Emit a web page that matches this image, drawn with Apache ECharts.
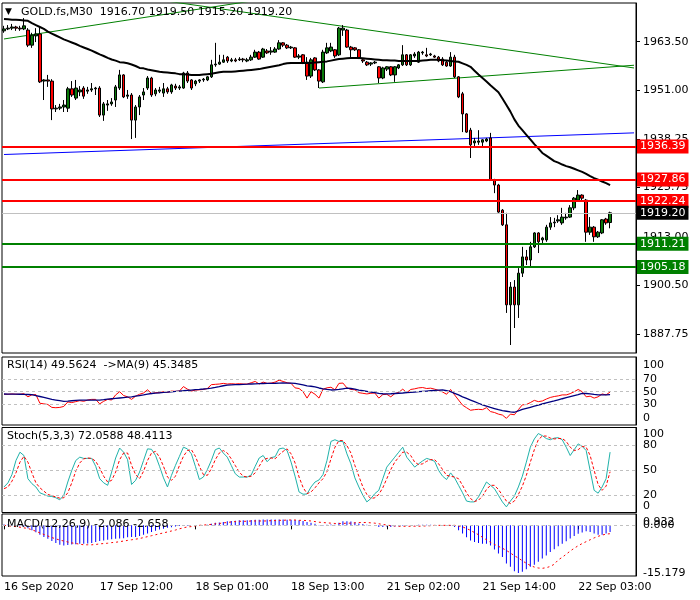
<!DOCTYPE html>
<html><head><meta charset="utf-8">
<script src="https://cdn.jsdelivr.net/npm/echarts@6/dist/echarts.min.js"></script>
<style>html,body{margin:0;padding:0;background:#fff}#c{width:700px;height:600px}</style>
</head><body><div id="c"></div>
<script>
// ---------- DATA ----------
const priceOpen = [1966.3,1966.8,1967.0,1967.3,1967.0,1966.8,1966.5,1962.6,1965.0,1965.5,
1953.3,1953.6,1953.3,1946.1,1946.3,1946.6,1946.3,1951.3,1948.9,1950.5,
1951.5,1950.7,1951.0,1951.3,1951.5,1944.5,1947.1,1947.4,1948.4,1951.5,
1954.9,1949.4,1949.7,1943.2,1946.6,1949.7,1951.5,1954.1,1950.0,1950.7,
1950.2,1951.3,1950.5,1952.0,1951.5,1951.5,1955.4,1953.6,1952.6,1953.3,
1953.6,1953.6,1954.4,1957.5,1957.7,1958.2,1959.5,1958.5,1958.8,1958.8,
1959.0,1958.5,1958.8,1959.5,1960.8,1959.5,1961.1,1960.8,1960.8,1961.6,
1963.2,1962.6,1961.9,1961.9,1959.5,1960.1,1958.2,1954.6,1959.3,1956.2,
1953.1,1960.6,1961.1,1961.4,1960.1,1966.5,1966.5,1962.1,1961.9,1961.4,
1958.8,1958.2,1957.7,1958.0,1957.0,1954.1,1956.4,1957.0,1954.9,1956.7,
1957.5,1960.1,1957.5,1959.8,1958.2,1960.6,1960.1,1960.1,1959.8,1959.5,
1959.0,1958.2,1957.2,1959.5,1954.4,1950.0,1944.8,1940.6,1937.3,1937.5,
1937.5,1937.8,1938.6,1927.7,1926.4,1919.9,1916.1,1895.4,1900.0,1895.4,
1903.6,1907.8,1907.0,1910.4,1914.0,1912.2,1912.2,1915.5,1916.6,1917.1,
1916.6,1917.9,1918.1,1920.5,1922.5,1923.8,1922.5,1914.2,1915.5,1913.0,
1914.0,1917.6,1916.7];
const priceClose = [1966.8,1967.0,1967.3,1967.0,1966.8,1967.6,1962.6,1965.2,1965.5,1953.1,
1953.6,1953.3,1946.1,1946.3,1946.6,1947.1,1951.3,1949.7,1951.5,1951.0,
1949.4,1951.0,1951.3,1951.5,1944.5,1947.4,1947.4,1947.9,1951.8,1954.9,
1949.2,1949.7,1943.2,1946.6,1949.2,1950.5,1954.1,1949.7,1951.0,1951.0,
1951.3,1950.5,1952.3,1951.5,1951.8,1955.4,1953.3,1951.5,1953.3,1953.6,
1953.8,1954.4,1957.5,1957.7,1958.2,1958.8,1958.5,1958.8,1958.5,1959.0,
1958.8,1958.8,1959.5,1960.8,1959.0,1961.6,1960.6,1961.1,1961.6,1963.2,
1962.6,1961.9,1962.1,1959.5,1959.8,1958.0,1954.6,1958.8,1956.2,1953.3,
1960.8,1961.9,1962.1,1959.8,1967.0,1967.0,1962.1,1961.4,1961.4,1959.3,
1958.5,1957.5,1958.0,1958.2,1954.1,1956.7,1957.0,1954.9,1957.0,1957.5,
1960.1,1957.5,1960.1,1960.3,1960.8,1960.8,1959.8,1960.3,1959.5,1958.5,
1957.5,1957.2,1959.5,1954.4,1949.2,1944.8,1940.1,1936.8,1937.8,1937.8,
1938.1,1938.3,1927.7,1926.4,1919.4,1916.1,1895.4,1900.0,1895.4,1903.6,
1907.8,1907.0,1910.4,1914.0,1911.7,1912.7,1915.5,1916.6,1916.8,1917.4,
1918.1,1918.1,1920.5,1923.0,1923.8,1923.0,1914.2,1915.5,1913.0,1914.2,
1917.4,1916.6,1919.2];
const priceLow = [1965.8,1966.5,1966.5,1966.3,1966.3,1966.5,1962.1,1961.9,1963.4,1952.8,
1948.4,1951.8,1943.2,1945.3,1945.8,1945.3,1945.3,1949.2,1948.4,1949.4,
1948.7,1950.0,1950.5,1949.7,1944.0,1943.0,1945.6,1946.9,1946.6,1951.0,
1948.9,1948.7,1938.3,1938.6,1944.5,1948.4,1951.0,1949.2,1949.4,1950.2,
1949.2,1950.0,1950.0,1951.0,1951.0,1951.3,1952.8,1951.0,1952.0,1952.8,
1953.1,1953.3,1954.1,1957.0,1957.5,1958.0,1958.0,1958.2,1958.2,1958.5,
1958.2,1958.2,1958.5,1959.3,1958.8,1959.3,1960.3,1960.1,1960.6,1961.4,
1962.1,1961.6,1961.6,1959.3,1959.0,1957.7,1953.6,1954.1,1955.9,1951.5,
1952.8,1960.3,1960.8,1959.3,1959.8,1965.0,1961.9,1959.5,1961.1,1959.0,
1958.0,1957.2,1957.2,1957.7,1952.8,1953.8,1955.9,1954.6,1953.1,1956.4,
1957.2,1957.2,1957.2,1959.3,1958.0,1960.1,1959.5,1959.8,1959.3,1958.2,
1957.2,1957.0,1957.0,1954.1,1948.9,1940.1,1939.9,1933.4,1936.2,1936.8,
1936.0,1937.5,1927.5,1924.3,1919.2,1915.8,1893.3,1885.0,1889.4,1892.0,
1902.6,1905.7,1905.2,1910.1,1908.8,1911.4,1911.7,1914.8,1915.5,1916.6,
1916.1,1917.4,1917.9,1919.9,1922.3,1922.5,1911.7,1913.5,1911.7,1912.7,
1913.7,1916.1,1915.2];
const priceHigh = [1967.6,1967.8,1968.1,1967.6,1967.6,1969.6,1967.0,1965.8,1967.0,1967.3,
1953.8,1954.9,1953.8,1947.1,1947.4,1948.4,1951.8,1953.3,1953.6,1952.0,
1952.0,1951.8,1952.8,1951.8,1952.0,1947.9,1948.4,1948.9,1952.3,1956.2,
1955.1,1951.0,1950.2,1947.1,1949.7,1951.5,1954.6,1954.4,1951.5,1951.8,
1952.8,1951.8,1952.6,1952.6,1952.3,1955.7,1955.9,1953.8,1953.6,1953.8,
1954.1,1954.6,1958.8,1963.2,1960.1,1960.1,1959.8,1959.3,1959.3,1959.5,
1959.3,1959.3,1960.1,1961.4,1961.1,1961.9,1961.6,1962.1,1962.1,1963.9,
1963.4,1962.9,1962.4,1962.1,1960.3,1960.3,1959.5,1959.3,1959.5,1956.4,
1961.4,1963.2,1963.2,1961.6,1967.3,1967.8,1966.8,1962.4,1962.1,1961.6,
1959.0,1958.5,1958.2,1958.5,1957.2,1957.0,1957.2,1957.2,1957.2,1957.7,
1962.6,1960.3,1960.3,1960.8,1961.1,1961.1,1961.9,1960.6,1960.1,1959.8,
1959.5,1958.5,1960.8,1960.1,1954.6,1950.5,1945.0,1941.2,1938.6,1940.6,
1938.3,1938.6,1939.9,1928.0,1926.7,1920.2,1919.2,1901.3,1901.8,1904.9,
1910.4,1909.6,1911.7,1914.2,1914.2,1913.0,1916.1,1918.1,1917.9,1918.6,
1920.5,1919.2,1921.2,1923.3,1925.1,1924.0,1922.8,1918.1,1915.8,1914.5,
1917.6,1917.9,1919.5];
const maValues = [1969.4,1969.3,1969.2,1969.2,1969.1,1969.0,1968.9,1968.3,1967.8,1967.3,
1966.8,1966.1,1965.6,1965.1,1964.6,1964.1,1963.7,1963.3,1962.9,1962.4,
1962.0,1961.6,1961.2,1960.7,1960.2,1959.8,1959.3,1958.9,1958.6,1958.2,
1958.1,1957.9,1957.6,1957.2,1956.7,1956.6,1956.3,1956.1,1955.9,1955.7,
1955.6,1955.5,1955.4,1955.3,1955.1,1955.1,1955.0,1954.9,1954.9,1954.9,
1955.0,1955.1,1955.2,1955.4,1955.6,1955.7,1955.7,1955.7,1955.8,1955.9,
1956.0,1956.1,1956.2,1956.3,1956.4,1956.6,1956.8,1957.0,1957.2,1957.4,
1957.7,1957.9,1958.0,1958.0,1958.0,1958.0,1958.0,1958.0,1958.1,1958.2,
1958.3,1958.4,1958.6,1958.8,1959.0,1959.1,1959.2,1959.3,1959.3,1959.3,
1959.2,1959.1,1959.0,1958.9,1958.8,1958.7,1958.7,1958.6,1958.6,1958.5,
1958.5,1958.5,1958.5,1958.5,1958.5,1958.6,1958.7,1958.8,1958.8,1958.8,
1958.7,1958.6,1958.5,1958.4,1958.3,1957.9,1957.5,1957.0,1956.0,1955.0,
1954.1,1953.2,1952.2,1951.3,1950.4,1948.8,1947.1,1945.4,1943.4,1941.8,
1940.6,1939.4,1938.2,1937.0,1935.9,1934.7,1934.0,1933.3,1932.6,1932.2,
1931.7,1931.3,1931.0,1930.6,1930.2,1929.8,1929.3,1928.7,1928.2,1927.8,
1927.3,1926.9,1926.4];
const rsiValues = [46,46,46.5,46,46,47,42,45,45.5,32,
31,30,25.5,25,25.5,27,34,33,34.5,36,
35,37,38,38,31,35,38,37,45,50,
44,42,38,43,46,48,53,47,48.5,48.5,
50,49,51,50.5,51,58,54,51,52.5,53,
53.5,55,61,61.5,62,63,62,62.5,62,62.5,
62,62,64,66,62,65,63,63.5,65,68,
66,64,63,56,55,50,40,50,46,40,
54,56,57,53,63,63.5,56,53.5,53,48.5,
47.5,46.5,47.5,48,40,45.5,46,42,47,49,
54,48.5,53.5,54.5,56,56.5,55,55.5,54,52,
49.5,46,53.5,45,37,29,25,21,22,22.5,
22,25,19,17.5,15,13.5,8.4,15,14,22,
29.5,30,33,36.5,34.5,35.5,38.5,41,42.5,43.5,
45,45,47,50,53.5,50,42,43,40,42,
46.5,45,49.56];
const rsiMaValues = [46.4,46.3,46.2,46.1,46,45.8,45.6,45.3,44,42.5,
41,39.5,38,37,36,35,35.3,35.9,36.5,37,
37,37,37,37,37,37.6,38.3,39,39.6,40.2,
40.8,41.4,42,43,44,45,46.2,47.2,47.8,48.3,
48.8,49.4,49.9,50.4,51,51.5,52.1,52.6,53.1,53.6,
54.2,54.9,55.7,56.8,58,59.3,60.2,60.6,61,61.2,
61.5,61.7,62,62.3,62.6,62.8,63,63,63.2,63.5,
63.6,63.5,63.3,63,62,60.5,59,58.5,57.5,55.8,
54.5,53.5,52.7,52.9,53.5,54.5,55.5,55,54,52.5,
51.5,50.5,49.5,48.5,47.5,46.8,46.5,46.8,47.2,47.6,
48,48.5,49,49.5,50,50.5,51,51.5,52,52.5,
52.7,51.5,50,47.5,45,42,39.5,37,34.5,32,
29.5,27.5,25.5,23.7,21.9,20.5,19.5,18.5,17.9,20,
22.3,24,25.7,27.4,29.1,30.8,32.4,34,35.6,37.3,
39,40.6,42.2,43.8,45.3,47.3,47.2,46.5,45.8,45.2,
45,45.1,45.35];
const stochMain = [30,35,45,62,72,68,40,34,30,23,
21,19,18.5,17,14.5,20,36,50,62,66,
64.5,64.5,64.5,55,40,35,32,48,65,77,
72,63,33,38,48,62,76,75.5,68,55,
41,30,44,56,67,78,76,70,55,39,
42,51,62,75,77,71,66,56,46,42,
42,42,44.5,55,65,68,60.5,65.5,66.5,76,
77,74,60,43,24,21.3,21.5,30,36,38.5,
45,62,85,87,85,85,70,58,41,30,
20,12,16,22,26,40,54,60,66,72,
78,66,60,54,58,61.5,64.5,63,61,50,
43,39,47,41,32,23,13,12,12,18,
27,36,32,28,20,12,6,13,19,30,
43,60,78,88,94.5,92,88.5,87,89,89.5,
87,78,68,75,82,79,74,50,26,22.5,
30,40,72.06];
const stochSignal = [28,30,37,47,60,67,60,47,35,29,
25,21,19.5,18,16.5,17,23,35,49,59,
64,65,64.5,61,53,43,36,38,48,63,
71,71,56,45,40,49,62,71,73,66,
55,42,38,43,56,67,74,75,67,55,
45,44,52,63,71,74,71,64,56,48,
43,42,43,47,55,63,64.5,65,64,69,
73,76,70,59,42,29.5,22,24,29,35,
40,48.5,64,78,86,86,80,71,56,43,
30,21,16,17,21,29,40,51,60,66,
72,72,68,60,57,58,61,63,63,58,
51,44,43,42,40,32,23,16,12.5,14,
19,27,32,32,27,20,13,10,13,21,
31,44,60,75,87,91.5,91.5,89,88,88.5,
88.5,85,78,74,75,79,78,68,50,33,
26,31,48.41];
const macdHist = [0.3,0.3,0.2,0,-0.3,-0.4,-0.9,-1.6,-2.2,-3.0,
-3.7,-4.3,-5.0,-5.6,-6.2,-6.4,-6.3,-6.1,-6.0,-5.9,
-5.9,-5.8,-5.6,-5.3,-5.0,-4.8,-4.6,-4.4,-4.3,-4.2,
-4.1,-3.8,-3.7,-3.7,-3.4,-3.0,-2.6,-2.1,-1.7,-1.3,
-1.1,-0.8,-0.6,-0.4,-0.2,-0.1,-0.1,0,0,0,
0.05,0.2,0.5,0.8,0.9,1.1,1.3,1.4,1.5,1.6,
1.6,1.6,1.7,1.8,1.8,1.9,1.9,1.9,1.9,1.9,
1.9,1.8,1.8,1.7,1.6,1.4,1.1,0.8,0.5,0.1,
-0.1,0.2,0.3,0.2,0.8,1.3,1.3,1.2,1.0,0.6,
0.4,0.2,0,-0.1,-0.5,-0.5,-0.4,-0.5,-0.4,-0.3,
-0.1,-0.2,0,0.1,0.2,0.2,0.2,0.2,0.1,0,
-0.1,-0.2,-0.1,-0.5,-1.6,-2.6,-3.8,-4.8,-5.3,-5.6,
-5.9,-5.9,-6.4,-7.7,-9.0,-10.1,-12.2,-13.2,-14.6,-15.179,
-14.8,-14.0,-13.2,-12.6,-11.6,-10.6,-9.6,-8.5,-7.6,-6.7,
-5.9,-5.1,-4.2,-3.4,-2.7,-2.3,-1.9,-2.1,-2.6,-3.0,
-3.0,-2.6,-2.086];
const macdSignal = [0,-0.1,-0.3,-0.4,-0.6,-0.8,-1.0,-1.4,-1.9,-2.4,
-2.9,-3.4,-3.9,-4.3,-4.7,-5.0,-5.3,-5.6,-5.8,-6.0,
-6.2,-6.2,-6.2,-6.1,-5.9,-5.8,-5.7,-5.5,-5.4,-5.2,
-5.0,-4.8,-4.6,-4.4,-4.2,-3.9,-3.6,-3.3,-3.0,-2.7,
-2.4,-2.1,-1.8,-1.5,-1.1,-0.8,-0.5,-0.4,-0.2,0,
0.1,0.2,0.3,0.5,0.6,0.8,0.9,1.1,1.2,1.3,
1.3,1.3,1.4,1.4,1.4,1.4,1.4,1.5,1.5,1.6,
1.6,1.7,1.7,1.7,1.6,1.6,1.5,1.4,1.2,1.0,
0.9,0.8,0.7,0.6,0.6,0.6,0.7,0.7,0.8,0.9,
0.9,0.9,0.8,0.7,0.5,0.3,0.1,-0.1,-0.2,-0.3,
-0.3,-0.3,-0.3,-0.3,-0.3,-0.2,-0.2,-0.1,0,0,
0,0,0,0,-0.2,-0.5,-1.0,-1.6,-2.3,-3.0,
-3.8,-4.6,-5.4,-6.1,-6.7,-7.3,-8.0,-8.8,-9.7,-10.4,
-11.3,-12.1,-12.8,-13.3,-13.6,-13.7,-13.5,-13.1,-12.4,-11.0,
-10.2,-9.2,-8.2,-7.3,-6.5,-5.8,-5.2,-4.6,-4.0,-3.5,
-3.1,-2.8,-2.658];
// horizontal levels
const resistanceLevels = [1936.39, 1927.86, 1922.24];
const supportLevels = [1911.21, 1905.18];
const bidPrice = 1919.20;
// trend lines as [bar index, price] end points
const trendDown = [[30, 1975.6], [158, 1956.7]];
const trendUpTop = [[0, 1964.2], [62, 1974.0]];
const trendUpLow = [[79, 1951.5], [158, 1957.4]];
const trendBlue = [[0, 1934.3], [158, 1939.9]];
// axis ticks / labels
const priceTicks = [1963.50, 1951.00, 1938.25, 1925.75, 1913.00, 1900.50, 1887.75];
const rsiTicks = [0, 30, 50, 70, 100];
const rsiLevels = [30, 50, 70];
const stochTicks = [0, 20, 50, 80, 100];
const stochLevels = [20, 50, 80];
const macdTicks = [-15.179, 0.932];
const macdZeroTick = [0];
const timeTickIndex = [0, 24, 48, 72, 96, 120, 144];
const timeTickLabels = ['16 Sep 2020', '17 Sep 12:00', '18 Sep 01:00', '18 Sep 13:00', '21 Sep 02:00', '21 Sep 14:00', '22 Sep 03:00'];
const titleText = 'GOLD.fs,M30  1916.70 1919.50 1915.20 1919.20';
const rsiText = 'RSI(14) 49.5624  ->MA(9) 45.3485';
const stochText = 'Stoch(5,3,3) 72.0588 48.4113';
const macdText = 'MACD(12,26,9) -2.086 -2.658';

// ---------- CHART ----------
const FONT = 'DejaVu Sans';
const FS = 11;
const SLOTS = 159;
const cats = Array.from({length: SLOTS}, (_, i) => String(i));
const candles = priceOpen.map((o, i) => [o, priceClose[i], priceLow[i], priceHigh[i]]);

const grids = [
  {left: 2, top: 3, width: 634, height: 350},
  {left: 2, top: 357, width: 634, height: 68},
  {left: 2, top: 427.5, width: 634, height: 85},
  {left: 2, top: 514, width: 634, height: 62}
].map(g => Object.assign(g, {show: true, borderColor: '#000', borderWidth: 1, backgroundColor: 'transparent'}));

const isTick = idx => timeTickIndex.indexOf(idx) >= 0;
const xAxes = grids.map((g, i) => ({
  type: 'category', gridIndex: i, data: cats, boundaryGap: true,
  axisLine: {show: false},
  axisTick: i === 3 ? {show: true, interval: (idx) => isTick(idx), alignWithLabel: true, length: 4, lineStyle: {color: '#000'}} : {show: false},
  axisLabel: i === 3 ? {
    show: true, interval: (idx) => isTick(idx), align: 'left', margin: 6,
    color: '#000', fontFamily: FONT, fontSize: FS, hideOverlap: false,
    formatter: (v, idx) => { const j = timeTickIndex.indexOf(idx); return j >= 0 ? timeTickLabels[j] : ''; }
  } : {show: false},
  splitLine: {show: false}
}));

const labelBase = {color: '#000', fontFamily: FONT, fontSize: FS, margin: 7, hideOverlap: false,
  showMinLabel: true, showMaxLabel: true};
const yAxes = [
  {type: 'value', gridIndex: 0, position: 'right', min: 1882.93, max: 1973.51, scale: true,
   axisLine: {show: true, lineStyle: {color: '#000'}},
   axisTick: {show: true, customValues: priceTicks, length: 4, lineStyle: {color: '#000'}},
   axisLabel: Object.assign({customValues: priceTicks, formatter: v => v.toFixed(2)}, labelBase),
   splitLine: {show: false}},
  {type: 'value', gridIndex: 1, position: 'right', min: -2, max: 104.2,
   axisLine: {show: true, lineStyle: {color: '#000'}},
   axisTick: {show: false},
   axisLabel: Object.assign({customValues: rsiTicks, formatter: v => String(v),
     verticalAlignMinLabel: 'bottom', verticalAlignMaxLabel: 'top'}, labelBase),
   splitLine: {show: false}},
  {type: 'value', gridIndex: 2, position: 'right', min: -0.8, max: 101.8,
   axisLine: {show: true, lineStyle: {color: '#000'}},
   axisTick: {show: false},
   axisLabel: Object.assign({customValues: stochTicks, formatter: v => String(v),
     verticalAlignMinLabel: 'bottom', verticalAlignMaxLabel: 'top'}, labelBase),
   splitLine: {show: false}},
  {type: 'value', gridIndex: 3, position: 'right', min: -16.15, max: 3.62,
   axisLine: {show: true, lineStyle: {color: '#000'}},
   axisTick: {show: false},
   axisLabel: Object.assign({customValues: macdTicks, formatter: v => v.toFixed(3)}, labelBase),
   splitLine: {show: false}},
  {type: 'value', gridIndex: 3, position: 'right', min: -16.15, max: 3.62,
   axisLine: {show: false},
   axisTick: {show: false},
   axisLabel: Object.assign({customValues: macdZeroTick, formatter: v => v.toFixed(3)}, labelBase),
   splitLine: {show: false}}
];

function levelLine(value, color, width, bg) {
  return {
    yAxis: value,
    lineStyle: {color: color, width: width, type: 'solid'},
    label: {show: true, position: 'end', distance: 1, formatter: value.toFixed(2),
      backgroundColor: bg, color: '#fff', fontFamily: FONT, fontSize: FS,
      padding: [1, 3, 1, 3], lineHeight: 12}
  };
}
const levelData = []
  .concat(resistanceLevels.map(v => levelLine(v, '#ff0000', 2, '#ff0000')))
  .concat([levelLine(bidPrice, '#c0c0c0', 1, '#000000')])
  .concat(supportLevels.map(v => levelLine(v, '#008000', 2, '#008000')));

function dashedLevels(vals) {
  return {silent: true, symbol: ['none', 'none'], label: {show: false},
    lineStyle: {color: '#c0c0c0', type: [3, 3], width: 1},
    data: vals.map(v => ({yAxis: v}))};
}
function trend(data, color) {
  return {type: 'line', xAxisIndex: 0, yAxisIndex: 0, data: data, symbol: 'none', silent: true,
    lineStyle: {color: color, width: 1}, clip: true, z: 1};
}
const txt = {fontFamily: FONT, fontSize: FS, color: '#000', fontWeight: 'normal'};

const option = {
  animation: false,
  backgroundColor: '#fff',
  textStyle: {fontFamily: FONT},
  title: [
    {text: '▼', left: 5, top: 7, padding: 0, textStyle: {fontFamily: 'DejaVu Sans', fontSize: 9, color: '#000', fontWeight: 'normal'}},
    {text: titleText, left: 21, top: 7, padding: 0, textStyle: txt},
    {text: rsiText, left: 7, top: 360, padding: 0, textStyle: txt},
    {text: stochText, left: 7, top: 431, padding: 0, textStyle: txt},
    {text: macdText, left: 7, top: 519, padding: 0, textStyle: txt}
  ],
  grid: grids,
  xAxis: xAxes,
  yAxis: yAxes,
  series: [
    trend(trendBlue, '#0000ff'),
    trend(trendDown, '#008000'),
    trend(trendUpTop, '#008000'),
    trend(trendUpLow, '#008000'),
    {type: 'candlestick', xAxisIndex: 0, yAxisIndex: 0, data: candles, barWidth: 3, silent: true,
     itemStyle: {color: '#0a7a0a', color0: '#ff0000', borderColor: '#000', borderColor0: '#000', borderWidth: 1},
     markLine: {silent: true, symbol: ['none', 'none'], data: levelData}, z: 3},
    {type: 'line', xAxisIndex: 0, yAxisIndex: 0, data: maValues, symbol: 'none', silent: true,
     lineStyle: {color: '#000', width: 2}, z: 4},
    {type: 'line', xAxisIndex: 1, yAxisIndex: 1, data: rsiValues, symbol: 'none', silent: true,
     lineStyle: {color: '#ff0000', width: 1}, markLine: dashedLevels(rsiLevels)},
    {type: 'line', xAxisIndex: 1, yAxisIndex: 1, data: rsiMaValues, symbol: 'none', silent: true,
     lineStyle: {color: '#000080', width: 1.3}},
    {type: 'line', xAxisIndex: 2, yAxisIndex: 2, data: stochMain, symbol: 'none', silent: true,
     lineStyle: {color: '#20b2aa', width: 1}, markLine: dashedLevels(stochLevels)},
    {type: 'line', xAxisIndex: 2, yAxisIndex: 2, data: stochSignal, symbol: 'none', silent: true,
     lineStyle: {color: '#ff0000', width: 1, type: [3, 2]}},
    {type: 'bar', xAxisIndex: 3, yAxisIndex: 3, data: macdHist, barWidth: 1, silent: true,
     itemStyle: {color: '#0000ff'}, markLine: dashedLevels([0])},
    {type: 'line', xAxisIndex: 3, yAxisIndex: 3, data: macdSignal, symbol: 'none', silent: true,
     lineStyle: {color: '#ff0000', width: 1, type: [2, 3]}}
  ]
};
const chart = echarts.init(document.getElementById('c'), null, {renderer: 'canvas'});
chart.setOption(option);
</script>
</body></html>
